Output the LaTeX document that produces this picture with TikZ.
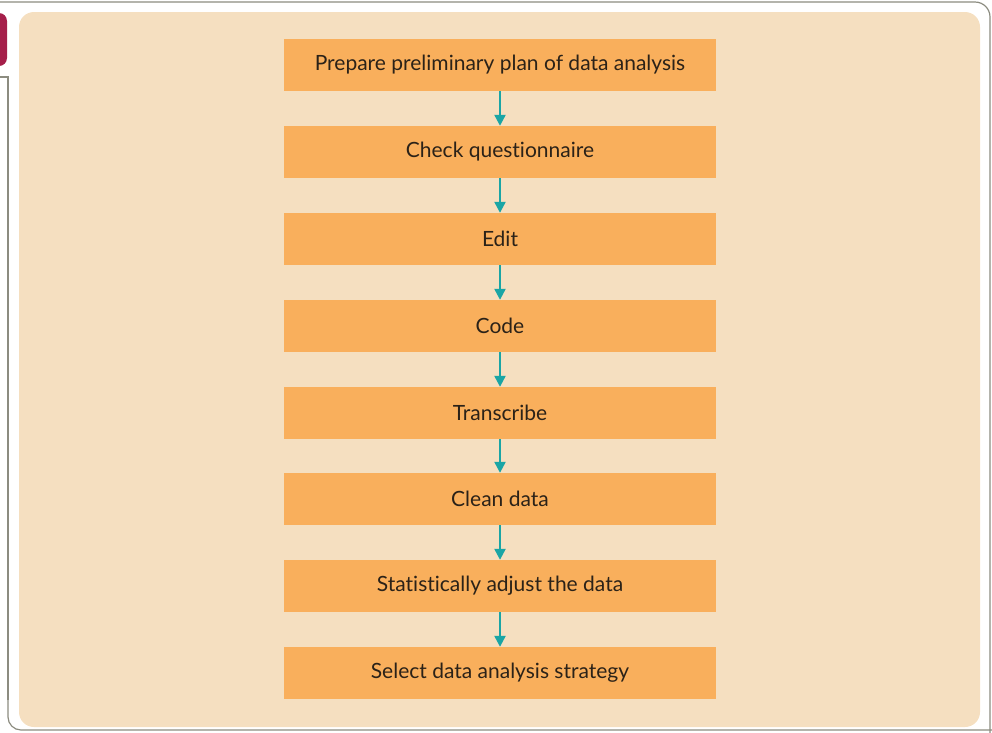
\documentclass[tikz,border=0pt]{standalone}
\usepackage{fontspec}
\setmainfont{Lato}[Ligatures=NoCommon]
\usetikzlibrary{arrows.meta}
\definecolor{panel}{HTML}{F5DFC0}
\definecolor{boxfill}{HTML}{F9AF5C}
\definecolor{arrowc}{HTML}{1AA5A5}
\definecolor{tab}{HTML}{A51F4A}
\definecolor{frame}{HTML}{8C8C80}
\definecolor{txt}{HTML}{2B2218}
\tikzset{
  stepbox/.style={fill=boxfill, draw=none, minimum width=432pt, minimum height=52pt, inner sep=0pt,
    font=\fontsize{21}{24}\selectfont, text=txt},
  flow/.style={draw=arrowc, line width=2.3pt, -{Triangle[length=11pt,width=11pt]}},
  framel/.style={draw=frame, line width=1.2pt},
}
\begin{document}
\begin{tikzpicture}[x=1pt,y=-1pt]
\useasboundingbox (0,0) rectangle (992,732);
% outer frame
\draw[framel, rounded corners=15pt] (-5,2) -- (990,2) -- (990,738);
\draw[framel] (-5,77) -- (8,77) -- (8,700);
\draw[framel, rounded corners=13pt] (8,690) -- (8,730) -- (998,730);
% tab
\fill[tab, rounded corners=8pt] (-10,13) rectangle (7,66);
% panel
\fill[panel, rounded corners=15pt] (19,12) rectangle (980,727);
% boxes
\node[stepbox] (s1) at (500,65) {Prepare preliminary plan of data analysis};
\node[stepbox] (s2) at (500,152) {Check questionnaire};
\node[stepbox] (s3) at (500,239) {Edit};
\node[stepbox] (s4) at (500,326) {Code};
\node[stepbox] (s5) at (500,413) {Transcribe};
\node[stepbox] (s6) at (500,499) {Clean data};
\node[stepbox] (s7) at (500,586) {Statistically adjust the data};
\node[stepbox] (s8) at (500,673) {Select data analysis strategy};
\foreach \a/\b in {s1/s2,s2/s3,s3/s4,s4/s5,s5/s6,s6/s7,s7/s8}
  \draw[flow] (\a.south) -- (\b.north);
\end{tikzpicture}
\end{document}
